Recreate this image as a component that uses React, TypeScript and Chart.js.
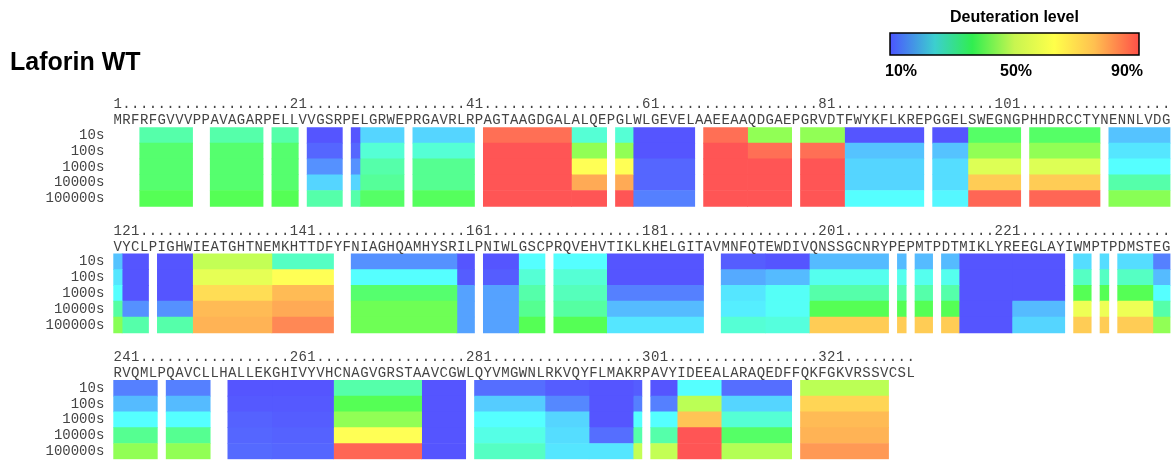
import React, { useEffect, useRef } from 'react';
import { Chart, registerables } from 'chart.js';

Chart.register(...registerables);

const TITLE = 'Laforin WT';
const LEGEND_TITLE = 'Deuteration level';
const legendTicks = ['10%', '50%', '90%'];
const timePoints = ['10s', '100s', '1000s', '10000s', '100000s'];
const blockStarts = [1, 121, 241];
const sequence =
  'MRFRFGVVVPPAVAGARPELLVVGSRPELGRWEPRGAVRLRPAGTAAGDGALALQEPGLWLGEVELAAEEAAQDGAEPGRVDTFWYKFLKREPGGELSWEGNGPHHDRCCTYNENNLVDG' +
  'VYCLPIGHWIEATGHTNEMKHTTDFYFNIAGHQAMHYSRILPNIWLGSCPRQVEHVTIKLKHELGITAVMNFQTEWDIVQNSSGCNRYPEPMTPDTMIKLYREEGLAYIWMPTPDMSTEG' +
  'RVQMLPQAVCLLHALLEKGHIVYVHCNAGVGRSTAAVCGWLQYVMGWNLRKVQYFLMAKRPAVYIDEEALARAQEDFFQKFGKVRSSVCSL';

// peptide segments (residue ranges)
const segStart = [4, 12, 19, 23, 28, 29, 35, 43, 53, 58, 60, 68, 73, 79, 84, 94, 98, 105, 114, 121, 122, 126, 130, 139, 148, 160, 163, 167, 171, 177, 190, 195, 200, 210, 212, 215, 217, 223, 230, 233, 235, 239, 241, 247, 254, 259, 266, 276, 282, 290, 295, 300, 302, 305, 310, 319];
const segEnd = [9, 17, 21, 26, 28, 33, 41, 52, 56, 59, 66, 72, 77, 83, 92, 97, 103, 112, 120, 121, 124, 129, 138, 145, 159, 161, 166, 169, 176, 187, 194, 199, 208, 210, 213, 216, 222, 228, 231, 233, 238, 240, 245, 251, 258, 265, 275, 280, 289, 294, 299, 300, 304, 309, 317, 328];

// deuteration level (%) per segment, per exchange time
const d10s = [40, 40, 40, 10, 10, 25, 25, 87, 35, 35, 10, 87, 57, 57, 10, 10, 48, 48, 23, 23, 10, 10, 63, 37, 17, 10, 10, 30, 30, 10, 11, 10, 22, 22, 22, 22, 10, 10, 26, 26, 26, 15, 15, 15, 10, 10, 40, 10, 13, 11, 10, 11, 10, 30, 13, 62];
const d100s = [47, 47, 47, 12, 12, 35, 35, 90, 57, 57, 10, 90, 87, 87, 23, 23, 57, 57, 27, 27, 10, 10, 67, 70, 30, 11, 11, 35, 35, 10, 20, 22, 32, 32, 32, 32, 10, 10, 37, 37, 37, 22, 22, 22, 10.5, 10.5, 50, 10, 24, 16, 10, 15, 15, 62, 25, 75];
const d1000s = [47, 47, 47, 17, 17, 40, 43, 90, 70, 70, 12, 90, 90, 90, 25, 26, 66, 66, 30, 30, 10, 10, 74, 78, 47, 19, 19, 40, 38, 15, 27, 31, 40, 40, 40, 40, 10, 10, 50, 50, 50, 30, 30, 30, 11.5, 11, 57, 10, 30, 25, 10, 30, 30, 77, 35, 78];
const d10000s = [47, 47, 47, 25, 25, 42, 43, 90, 80, 80, 12, 90, 90, 90, 25, 26, 76, 76, 40, 41, 17, 17, 78, 80, 53, 19, 19, 43, 41, 22, 28, 31, 50, 50, 50, 50, 10, 22, 68, 68, 68, 40, 43, 43, 12, 11.5, 70, 10, 33, 26, 13, 40, 40, 90, 48, 79];
const d100000s = [50, 50, 50, 40, 40, 48, 49, 90, 90, 90, 15, 90, 90, 90, 30, 29, 88, 88, 56, 56, 40, 40, 79, 84, 53, 19, 19, 50, 50, 27, 35, 34, 76, 76, 76, 76, 10, 25, 76, 76, 76, 57, 57, 57, 12.5, 12, 88, 10, 37, 27, 27, 63, 63, 90, 61, 82];

const seriesByTime = [d10s, d100s, d1000s, d10000s, d100000s];
const BLOCK = 120;
const GAP_ROWS = 3;
const ROWS_PER_BLOCK = timePoints.length + GAP_ROWS;

function colorFor(v: number): string {
  const h = Math.max(0, Math.min(240, 240 - (v - 10) * 3));
  const c = 2 / 3;
  const x = c * (1 - Math.abs(((h / 60) % 2) - 1));
  const m = 1 - c;
  let r = 0, g = 0, b = 0;
  if (h < 60) { r = c; g = x; }
  else if (h < 120) { r = x; g = c; }
  else if (h < 180) { g = c; b = x; }
  else { g = x; b = c; }
  const to = (n: number) => Math.round((n + m) * 255);
  return `rgb(${to(r)},${to(g)},${to(b)})`;
}

function makeRuler(start: number, len: number): string[] {
  const chars = new Array(len).fill('.');
  for (let r = start; r < start + len; r++) {
    if ((r - 1) % 20 === 0) {
      const s = String(r);
      for (let i = 0; i < s.length && r - start + i < len; i++) chars[r - start + i] = s[i];
    }
  }
  return chars;
}

const yLabels: string[] = [];
blockStarts.forEach((_, b) => {
  timePoints.forEach((t) => yLabels.push(t));
  if (b < blockStarts.length - 1) for (let i = 0; i < GAP_ROWS; i++) yLabels.push('');
});

const datasets = segStart.map((s, k) => {
  const b = Math.floor((s - 1) / BLOCK);
  const x0 = s - b * BLOCK - 0.5;
  const x1 = segEnd[k] - b * BLOCK + 0.5;
  const data: any[] = yLabels.map(() => null);
  const colors: string[] = yLabels.map(() => 'rgba(0,0,0,0)');
  timePoints.forEach((_, t) => {
    data[b * ROWS_PER_BLOCK + t] = [x0, x1];
    colors[b * ROWS_PER_BLOCK + t] = colorFor(seriesByTime[t][k]);
  });
  return {
    label: `${s}-${segEnd[k]}`,
    data,
    backgroundColor: colors,
    borderWidth: 0,
    grouped: false,
    barPercentage: 1,
    categoryPercentage: 1,
  };
});

const textPlugin = {
  id: 'seqText',
  afterDraw(chart: any) {
    const ctx = chart.ctx as CanvasRenderingContext2D;
    const xs = chart.scales.x;
    const ys = chart.scales.y;
    const rowH = (ys.bottom - ys.top) / yLabels.length;
    ctx.save();
    ctx.fillStyle = '#444';
    ctx.font = '14px "Liberation Mono", monospace';
    ctx.textAlign = 'center';
    ctx.textBaseline = 'middle';
    blockStarts.forEach((s, b) => {
      const len = Math.min(BLOCK, sequence.length - (s - 1));
      const top = ys.top + b * ROWS_PER_BLOCK * rowH;
      const ruler = makeRuler(s, len);
      for (let j = 0; j < len; j++) {
        const px = xs.getPixelForValue(j + 1);
        ctx.fillText(ruler[j], px, top - 1.5 * rowH + 1);
        ctx.fillText(sequence[s - 1 + j], px, top - 0.5 * rowH + 1);
      }
    });

    // title
    ctx.fillStyle = '#000';
    ctx.textAlign = 'left';
    ctx.textBaseline = 'alphabetic';
    ctx.font = 'bold 25px "Liberation Sans", Arial, sans-serif';
    ctx.fillText(TITLE, 10, 70);

    // colour legend
    const lx = 890, ly = 33, lw = 249, lh = 22;
    ctx.font = 'bold 16px "Liberation Sans", Arial, sans-serif';
    ctx.textAlign = 'center';
    ctx.textBaseline = 'middle';
    ctx.fillText(LEGEND_TITLE, lx + lw / 2, 18);
    const grad = ctx.createLinearGradient(lx, 0, lx + lw, 0);
    grad.addColorStop(0, '#4b55ff');
    grad.addColorStop(0.18, '#3ccfcf');
    grad.addColorStop(0.33, '#30ee50');
    grad.addColorStop(0.5, '#c8f550');
    grad.addColorStop(0.66, '#ffff4a');
    grad.addColorStop(0.82, '#ffc050');
    grad.addColorStop(1, '#ff5048');
    ctx.fillStyle = grad;
    ctx.fillRect(lx, ly, lw, lh);
    ctx.strokeStyle = '#000';
    ctx.lineWidth = 1.5;
    ctx.strokeRect(lx, ly, lw, lh);
    ctx.fillStyle = '#000';
    const tickX = [901, 1016, 1127];
    legendTicks.forEach((t, i) => ctx.fillText(t, tickX[i], 72));
    ctx.restore();
  },
};

export default function App() {
  const ref = useRef<HTMLCanvasElement>(null);
  useEffect(() => {
    if (!ref.current) return;
    const chart = new Chart(ref.current, {
      type: 'bar',
      data: { labels: yLabels, datasets: datasets as any },
      options: {
        indexAxis: 'y',
        animation: false,
        responsive: false,
        layout: { padding: { top: 127.3, bottom: 2.7, left: 0, right: 3.5 } },
        plugins: { legend: { display: false }, tooltip: { enabled: false } },
        scales: {
          x: { type: 'linear', min: 0.5, max: BLOCK + 0.5, display: false },
          y: {
            type: 'category',
            grid: { display: false, drawTicks: false },
            border: { display: false },
            ticks: {
              autoSkip: false,
              padding: 9,
              color: '#444',
              font: { family: '"Liberation Mono", monospace', size: 14 },
            },
            afterFit: (scale: any) => {
              scale.width = 113.3;
              scale.paddingTop = 0;
              scale.paddingBottom = 0;
            },
          },
        },
      } as any,
      plugins: [textPlugin],
    });
    return () => chart.destroy();
  }, []);
  return (
    <div style={{ position: 'absolute', left: 0, top: 0, width: 1174, height: 462, background: '#fff' }}>
      <canvas ref={ref} width={1174} height={462} style={{ display: 'block' }} />
    </div>
  );
}
